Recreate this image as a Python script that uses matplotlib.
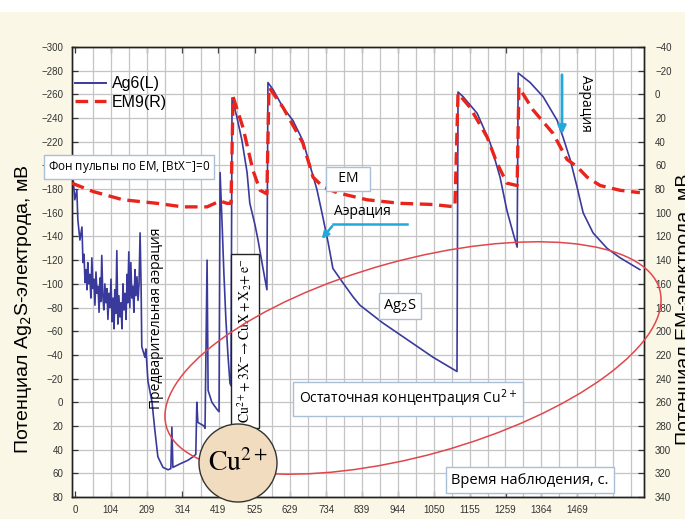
import matplotlib.pyplot as plt
import matplotlib.patches as mpatches
import matplotlib.transforms as mtransforms
from matplotlib.lines import Line2D
import numpy as np

plt.rcParams['font.family'] = ['Liberation Sans', 'DejaVu Sans']

# Ag2S electrode potential (left axis), mV
ag_t = [-6, -1, 5, 8, 14, 20, 23, 26, 29, 32, 35, 37, 40, 43, 46, 49, 52, 55, 58, 61, 64, 67,
        70, 73, 75, 78, 81, 84, 87, 90, 93, 96, 99, 102, 105, 108, 111, 114, 116, 119, 122,
        125, 128, 131, 134, 137, 140, 143, 146, 149, 152, 154, 157, 160, 163, 166, 169, 172,
        175, 178, 181, 184, 187, 190, 193, 195, 204, 207, 213, 225, 233, 242, 257, 272, 280,
        283, 286, 307, 330, 345, 353, 356, 359, 377, 380, 386, 389, 400, 415, 421, 424, 430,
        435, 441, 447, 453, 456, 459, 473, 488, 503, 511, 526, 535, 549, 561, 564, 579, 608,
        637, 666, 687, 707, 722, 740, 754, 783, 813, 833, 900, 971, 1047, 1117, 1120, 1135,
        1176, 1214, 1243, 1263, 1281, 1293, 1296, 1331, 1369, 1410, 1427, 1448, 1468, 1486,
        1515, 1556, 1594, 1652]
ag_mv = [-190, -171, -179, -154, -137, -148, -118, -125, -101, -112, -95, -118, -100, -108,
         -88, -122, -96, -104, -82, -110, -92, -98, -76, -105, -85, -124, -90, -78, -100, -84,
         -96, -70, -92, -80, -104, -68, -88, -62, -95, -75, -128, -66, -90, -72, -84, -62,
         -100, -78, -92, -70, -108, -84, -127, -80, -118, -88, -98, -76, -112, -90, -106,
         -86, -100, -143, -98, -47, -38, -45, -18, 0, 23, 46, 55, 57, 56, 21, 55, 52, 49, 46,
         44, 0, 17, 20, 22, -120, -10, 0, 6, 8, -194, -150, -110, -70, -40, -16, -14, -257,
         -241, -221, -194, -168, -150, -137, -114, -95, -270, -264, -249, -238, -221, -200,
         -180, -160, -135, -113, -101, -89, -82, -67, -53, -38, -26, -262, -258, -244, -219,
         -190, -162, -143, -131, -278, -270, -258, -238, -224, -205, -182, -160, -143, -130,
         -122, -112]

# EM electrode potential (right axis), mV
em_t = [-9, 52, 140, 239, 315, 386, 424, 444, 456, 462, 491, 520, 541, 561, 567, 608, 666,
        696, 725, 766, 854, 950, 1047, 1111, 1120, 1155, 1205, 1234, 1263, 1293, 1298, 1339,
        1398, 1439, 1468, 1498, 1536, 1594, 1652]
em_mv = [75, 82, 89, 92, 95, 95, 90, 92, 92, 2, 28, 64, 81, 84, -6, 11, 41, 70, 78, 83, 89,
         92, 93, 95, -1, 11, 36, 58, 75, 77, -6, 13, 33, 55, 61, 70, 77, 81, 83]

x_ticks = [0, 104, 209, 314, 419, 525, 629, 734, 839, 944, 1050, 1155, 1259, 1364, 1469]
left_ticks = list(range(-300, 81, 20))
right_ticks = list(range(-40, 341, 20))

W, H = 685, 519
fig = plt.figure(figsize=(W / 100, H / 100), dpi=100)
fig.patch.set_facecolor('#faf7e6')
# white strip along the top edge
fig.patches.append(mpatches.Rectangle((0, 1 - 12 / H), 1, 12 / H, transform=fig.transFigure,
                                      facecolor='white', edgecolor='none', zorder=0))

ax = fig.add_axes([71.7 / W, 1 - 497 / H, (644 - 71.7) / W, (497 - 47) / H])
ax2 = ax.twinx()
ax.set_facecolor('white')

ax.plot(ag_t, ag_mv, color='#3a3a9c', lw=1.2, zorder=3)
ax2.plot(em_t, em_mv, color='#e8241c', lw=2.4, dashes=(3.8, 2.0), zorder=3)

ax.set_xlim(-10, 1664)
ax.set_ylim(80, -300)
ax2.set_ylim(340, -40)
ax.set_xticks(x_ticks)
ax.set_xticks(np.arange(0, 1664, 52.45), minor=True)
ax.set_yticks(left_ticks)
ax2.set_yticks(right_ticks)
ax.grid(True, which='minor', axis='x', color='#c4c4c4', lw=0.9)
ax.grid(True, which='major', axis='y', color='#c4c4c4', lw=0.9)
ax.set_axisbelow(True)
for a in (ax, ax2):
    a.tick_params(axis='both', which='major', direction='in', length=4, width=0.9,
                  labelsize=7, colors='#333333', top=True)
    for s in a.spines.values():
        s.set_color('#222222')
        s.set_linewidth(1.0)
ax.tick_params(axis='x', which='minor', length=0, pad=6)
ax.tick_params(axis='x', which='major', pad=6)
ax.tick_params(axis='y', pad=6)
ax2.tick_params(axis='y', pad=8)

ax.set_ylabel('Потенциал Ag$_2$S-электрода, мВ', fontsize=14)
ax.yaxis.set_label_coords(-0.066, 0.418)
ax2.set_ylabel('Потенциал ЕМ-электрода, мВ', fontsize=14)
ax2.yaxis.set_label_coords(1.056, 0.418)

handles = [Line2D([], [], color='#3a3a9c', lw=1.4),
           Line2D([], [], color='#e8241c', lw=2.4, dashes=(3.8, 2.0))]
fig.legend(handles, ['Ag6(L)', 'EM9(R)'], loc='upper left',
           bbox_to_anchor=(61 / W, 1 - 62 / H), frameon=False, fontsize=11.5,
           handlelength=1.9, labelspacing=0.2, handletextpad=0.4)


def fx(px):
    return px / W


def fy(py):
    return 1 - py / H


box = dict(boxstyle='square,pad=0.3', facecolor='white', edgecolor='#a9bfd6', lw=1.0)
note_font = ['Open Sans', 'DejaVu Sans']

fig.text(fx(129), fy(167), 'Фон пульпы по ЕМ, [BtX$^{-}$]=0', fontsize=8.5, ha='center',
         va='center', bbox=box, family=note_font)
fig.text(fx(348), fy(179), '  ЕМ  ', fontsize=10, ha='center', va='center',
         bbox=dict(box, boxstyle='square,pad=0.35'), family=note_font)
fig.text(fx(400), fy(306), 'Ag$_2$S', fontsize=10.5, ha='center', va='center',
         bbox=dict(box, boxstyle='square,pad=0.3'), family=note_font)
fig.text(fx(408), fy(399), 'Остаточная концентрация Cu$^{2+}$', fontsize=10, ha='center',
         va='center', bbox=dict(box, boxstyle='square,pad=0.4'), family=note_font)
fig.text(fx(530), fy(480), 'Время наблюдения, с.', fontsize=10.5, ha='center', va='center',
         bbox=dict(box, boxstyle='square,pad=0.35'), family=note_font)
fig.text(fx(156), fy(318), 'Предварительная аэрация', fontsize=10, rotation=90,
         ha='center', va='center', family=note_font)
fig.text(fx(362), fy(212), 'Аэрация', fontsize=10, ha='center', va='center',
         family=note_font)
fig.text(fx(585), fy(103), 'Аэрация', fontsize=10, rotation=-90, ha='center',
         va='center', family=note_font)

# reaction label in a framed vertical box
fig.text(fx(245), fy(341),
         r'$\mathrm{Cu^{2+}\!+3X^{-}\!\rightarrow CuX+X_2\!+e^{-}}$', fontsize=10,
         rotation=90, ha='center', va='center', math_fontfamily='stix',
         bbox=dict(boxstyle='square,pad=0.3', facecolor='white', edgecolor='#222222', lw=1.0))

# aeration arrows
cyan = '#22a9dc'
fig.add_artist(Line2D([fx(407), fx(333)], [fy(224), fy(224)], color=cyan, lw=1.8,
                      transform=fig.transFigure))
fig.add_artist(mpatches.FancyArrowPatch((fx(334), fy(224)), (fx(320), fy(241)),
                                        transform=fig.transFigure, arrowstyle='-|>',
                                        mutation_scale=10, color=cyan, lw=1.8))
fig.add_artist(mpatches.FancyArrowPatch((fx(562), fy(72)), (fx(562), fy(137)),
                                        transform=fig.transFigure, arrowstyle='-|>',
                                        mutation_scale=12, color=cyan, lw=2.0))

# residual-copper ellipse and Cu2+ circle, in pixel space
ident = mtransforms.IdentityTransform()
fig.add_artist(mpatches.Ellipse((413, H - 358), 512, 195, angle=15.5, transform=ident,
                                facecolor='none', edgecolor='#e0474c', lw=1.1, zorder=5))
fig.add_artist(mpatches.Circle((238, H - 463), 39, transform=ident, facecolor='#f1dcc0',
                               edgecolor='#333333', lw=1.0, zorder=6))
fig.text(fx(238), fy(463), r'$\mathrm{Cu^{2+}}$', fontsize=20, ha='center', va='center',
         math_fontfamily='stix', zorder=7)

fig.savefig('out.png', dpi=100, facecolor=fig.get_facecolor())
